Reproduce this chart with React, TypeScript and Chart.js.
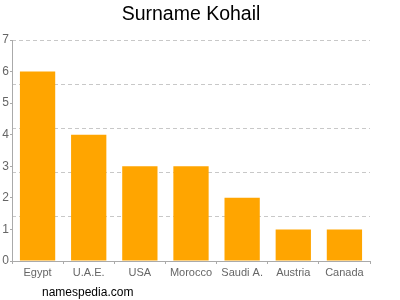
import React, { useEffect, useRef } from "react";
import { Chart, registerables } from "chart.js";

Chart.register(...registerables);

const categories = ["Egypt", "U.A.E.", "USA", "Morocco", "Saudi A.", "Austria", "Canada"];
const counts = [6, 4, 3, 3, 2, 1, 1];
const titleText = "Surname Kohail";
const footerText = "namespedia.com";

const textPlugin = {
  id: "texts",
  afterDraw(chart: any) {
    const ctx = chart.ctx;
    const area = chart.chartArea;
    ctx.save();
    ctx.fillStyle = "#000";
    ctx.textBaseline = "middle";
    ctx.textAlign = "center";
    ctx.font = "19.5px 'Liberation Sans', Arial, sans-serif";
    ctx.fillText(titleText, (area.left + area.right) / 2, 15);
    ctx.textAlign = "left";
    ctx.font = "12px 'Liberation Sans', Arial, sans-serif";
    ctx.fillText(footerText, 42, 293);
    ctx.restore();
  },
};

export default function App() {
  const ref = useRef<HTMLCanvasElement | null>(null);
  useEffect(() => {
    if (!ref.current) return;
    const chart = new Chart(ref.current, {
      type: "bar",
      data: {
        labels: categories,
        datasets: [
          {
            data: counts,
            backgroundColor: "#FFA500",
            categoryPercentage: 0.69,
            barPercentage: 1,
          },
        ],
      },
      options: {
        responsive: false,
        animation: false,
        layout: { padding: { top: 40, right: 30, bottom: 19, left: 0 } },
        plugins: { legend: { display: false }, tooltip: { enabled: false } },
        scales: {
          x: {
            grid: { display: true, drawOnChartArea: false, drawTicks: true, tickLength: 3, color: "#aaa" },
            border: { display: true, color: "#aaa" },
            ticks: { color: "#666", font: { size: 11, family: "'Liberation Sans', Arial, sans-serif" }, padding: 2 },
            afterFit(scale: any) {
              scale.height = 20;
            },
          },
          y: {
            min: 0,
            max: 7,
            position: "left",
            ticks: { stepSize: 1, color: "#666", font: { size: 12, family: "'Liberation Sans', Arial, sans-serif" }, padding: 1 },
            grid: { display: true, drawOnChartArea: false, drawTicks: true, tickLength: 2, color: "#aaa" },
            border: { display: true, color: "#aaa" },
            afterFit(scale: any) {
              scale.width = 12;
            },
          },
          y2: {
            min: 0,
            max: 7,
            position: "left",
            ticks: { display: false, stepSize: 1.4, count: 6 } as any,
            afterBuildTicks(scale: any) {
              scale.ticks = [0, 1.4, 2.8, 4.2, 5.6, 7].map((v) => ({ value: v }));
            },
            grid: { display: true, drawTicks: false, color: (c: any) => (c.tick && c.tick.value === 0 ? "rgba(0,0,0,0)" : "#c8c8c8") },
            border: { display: false, dash: [4, 3] },
            afterFit(scale: any) {
              scale.width = 0;
            },
          },
        },
      } as any,
      plugins: [textPlugin],
    });
    return () => chart.destroy();
  }, []);
  return (
    <canvas
      ref={ref}
      width={400}
      height={300}
      style={{ position: "absolute", left: 0, top: 0, width: 400, height: 300 }}
    />
  );
}
